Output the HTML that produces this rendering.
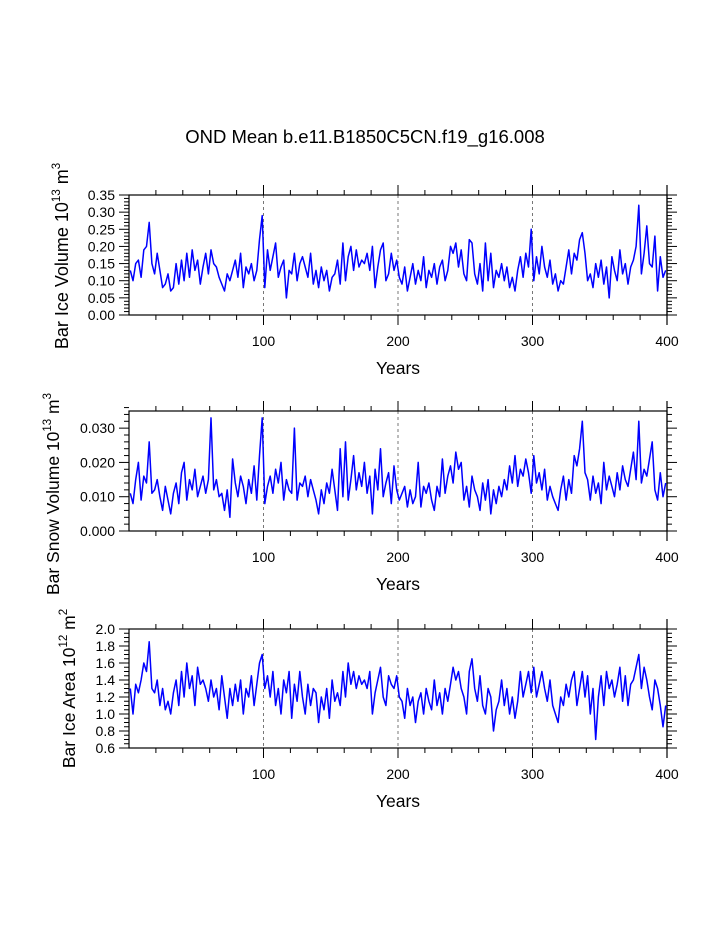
<!DOCTYPE html>
<html><head><meta charset="utf-8"><style>
body{margin:0;background:#fff;}
svg{display:block;font-family:"Liberation Sans",Arial,sans-serif;}
</style></head><body>
<svg id="chart" width="723" height="935" xmlns="http://www.w3.org/2000/svg">
<text x="365" y="143" font-size="18.5" text-anchor="middle">OND Mean b.e11.B1850C5CN.f19_g16.008</text>
</svg>
<script>
const years = [];
for (let y = 1; y <= 399; y += 2) years.push(y);
const xTicks = [100, 200, 300, 400];
const iceVolume = [
.13,.10,.15,.16,.11,.19,.20,.27,.15,.12,
.18,.13,.08,.09,.12,.07,.08,.15,.09,.16,
.10,.18,.11,.19,.13,.16,.09,.14,.18,.12,
.19,.15,.14,.11,.09,.07,.12,.10,.13,.16,
.11,.18,.08,.14,.12,.15,.10,.13,.22,.29,
.08,.19,.13,.17,.21,.11,.14,.16,.05,.13,
.12,.18,.10,.15,.17,.14,.11,.18,.09,.13,
.08,.14,.10,.13,.07,.11,.12,.16,.09,.21,
.10,.17,.20,.13,.19,.14,.16,.15,.18,.13,
.20,.08,.14,.19,.21,.10,.12,.18,.13,.16,
.11,.09,.14,.07,.11,.15,.09,.13,.10,.17,
.08,.13,.11,.15,.09,.14,.16,.10,.13,.20,
.18,.21,.14,.19,.12,.10,.22,.21,.12,.09,
.15,.07,.21,.10,.18,.08,.13,.11,.15,.10,
.14,.08,.11,.07,.13,.17,.11,.18,.14,.25,
.10,.17,.12,.20,.14,.11,.16,.09,.12,.07,
.10,.09,.14,.19,.12,.18,.16,.22,.24,.18,
.10,.12,.08,.15,.11,.16,.09,.14,.05,.17,
.13,.10,.19,.12,.15,.09,.14,.16,.20,.32,
.12,.18,.26,.15,.14,.23,.07,.17,.11,.13];
const snowVolume = [
.011,.008,.015,.020,.009,.016,.014,.026,.011,.012,
.015,.010,.006,.013,.009,.005,.011,.014,.008,.017,
.020,.009,.015,.012,.018,.010,.013,.016,.011,.015,
.033,.012,.015,.010,.011,.006,.012,.004,.021,.014,
.010,.016,.013,.008,.015,.011,.019,.009,.022,.033,
.008,.013,.016,.011,.018,.014,.020,.009,.015,.012,
.011,.030,.009,.014,.013,.016,.010,.015,.012,.009,
.005,.012,.008,.014,.011,.018,.012,.006,.024,.010,
.026,.009,.015,.022,.012,.017,.013,.020,.011,.016,
.005,.018,.012,.024,.010,.014,.017,.008,.019,.012,
.009,.011,.013,.007,.012,.008,.010,.020,.007,.013,
.011,.014,.009,.006,.013,.010,.021,.011,.016,.019,
.014,.023,.018,.020,.009,.013,.007,.016,.012,.010,
.006,.014,.009,.015,.005,.012,.008,.013,.010,.015,
.012,.019,.014,.022,.013,.018,.016,.021,.017,.011,
.022,.014,.017,.012,.018,.009,.013,.010,.008,.006,
.012,.016,.009,.015,.011,.022,.019,.024,.032,.017,
.015,.009,.016,.011,.014,.008,.020,.012,.016,.013,
.010,.017,.012,.019,.015,.013,.018,.023,.015,.032,
.014,.018,.016,.021,.026,.012,.009,.017,.010,.014];
const iceArea = [
1.3,1.0,1.35,1.25,1.4,1.6,1.5,1.85,1.3,1.25,
1.4,1.1,1.3,1.05,1.15,1.0,1.25,1.4,1.1,1.5,
1.2,1.6,1.3,1.45,1.1,1.55,1.35,1.4,1.3,1.15,
1.4,1.2,1.3,1.05,1.45,1.2,0.95,1.3,1.1,1.35,
1.15,1.4,1.0,1.3,1.2,1.45,1.1,1.35,1.6,1.7,
1.3,1.45,1.2,1.5,1.1,1.3,1.0,1.4,1.25,1.5,
0.95,1.35,1.15,1.5,1.2,1.0,1.35,1.1,1.3,1.25,
0.9,1.2,1.05,1.3,0.95,1.4,1.15,1.25,1.1,1.5,
1.2,1.6,1.35,1.5,1.3,1.45,1.35,1.4,1.3,1.5,
1.0,1.25,1.4,1.55,1.2,1.1,1.45,1.35,1.3,1.45,
1.2,1.15,0.95,1.3,1.1,1.2,0.9,1.15,1.25,1.0,
1.3,1.15,1.05,1.4,1.1,1.25,1.0,1.3,1.15,1.35,
1.55,1.4,1.5,1.3,1.2,1.0,1.5,1.65,1.3,1.15,
1.45,1.1,1.0,1.3,1.2,0.8,1.05,1.15,1.4,1.1,
1.3,1.0,1.2,0.95,1.15,1.5,1.2,1.35,1.5,1.25,
1.55,1.2,1.35,1.5,1.3,1.15,1.4,1.1,1.0,0.9,
1.2,1.1,1.35,1.2,1.4,1.5,1.1,1.3,1.5,1.2,
1.45,1.0,1.3,0.7,1.2,1.45,1.1,1.5,1.3,1.4,
1.2,1.35,1.55,1.15,1.45,1.1,1.35,1.4,1.55,1.7,
1.3,1.55,1.4,1.2,1.05,1.4,1.3,1.1,0.85,1.1];
const iceVolTicks = ["0.00","0.05","0.10","0.15","0.20","0.25","0.30","0.35"];
const snowTicks = ["0.000","0.010","0.020","0.030"];
const areaTicks = ["0.6","0.8","1.0","1.2","1.4","1.6","1.8","2.0"];

const NS = "http://www.w3.org/2000/svg";
const svg = document.getElementById('chart');
function mk(tag, attrs, parent) {
  const e = document.createElementNS(NS, tag);
  for (const k in attrs) e.setAttribute(k, attrs[k]);
  (parent || svg).appendChild(e);
  return e;
}
const X0 = 129, X1 = 667;
function xs(v) { return X0 + v / 400 * (X1 - X0); }

function panel(cfg) {
  const g = mk('g', {});
  
  
  const ys = v => cfg.bot - (v - cfg.min) / (cfg.max - cfg.min) * (cfg.bot - cfg.top);
  [100, 200, 300].forEach(t => {
    const l = mk('line', {x1: xs(t), x2: xs(t), y1: cfg.top, y2: cfg.bot, stroke: '#777', 'stroke-width': 1, 'stroke-dasharray': '3,3'}, g);
    
    
  });
  for (let t = 20; t < 400; t += 20) {
    const len = (t % 100 === 0) ? 10 : 5;
    mk('line', {x1: xs(t), x2: xs(t), y1: cfg.bot, y2: cfg.bot + len, stroke: '#000', 'stroke-width': 1}, g);
    mk('line', {x1: xs(t), x2: xs(t), y1: cfg.top, y2: cfg.top - len, stroke: '#000', 'stroke-width': 1}, g);
  }
  mk('line', {x1: X1, x2: X1, y1: cfg.bot + 10, y2: cfg.top - 10, stroke: '#000', 'stroke-width': 1.2}, g);
  const step = cfg.step;
  const mstep = step / cfg.minor;
  const nMinor = Math.round((cfg.max - cfg.min) / mstep);
  for (let i = 0; i <= nMinor; i++) {
    const v = cfg.min + i * mstep;
    const y = ys(v);
    const len = (i % cfg.minor === 0) ? 10 : 5;
    mk('line', {x1: X0, x2: X0 - len, y1: y, y2: y, stroke: '#000', 'stroke-width': 1}, g);
    mk('line', {x1: X1, x2: X1 + len, y1: y, y2: y, stroke: '#000', 'stroke-width': 1}, g);
  }
  cfg.ticks.forEach((lab, i) => {
    const t = mk('text', {x: 115, y: ys(cfg.min + i * step) + 5, 'font-size': 14, 'text-anchor': 'end'}, g);
    t.textContent = lab;
    
    
  });
  xTicks.forEach(v => {
    const t = mk('text', {x: xs(v), y: cfg.bot + 31, 'font-size': 14, 'text-anchor': 'middle'}, g);
    t.textContent = v;
    
    
  });
  const xt = mk('text', {x: 398, y: cfg.bot + 59, 'font-size': 17.5, 'text-anchor': 'middle'}, g);
  xt.textContent = 'Years';
  
  
  const cy = (cfg.top + cfg.bot) / 2 + cfg.yoff;
  const fs = cfg.fs;
  const yt = mk('text', {x: 0, y: 0, 'font-size': fs, 'text-anchor': 'middle', transform: `translate(${cfg.tx},${cy}) rotate(-90)`}, g);
  
  
  yt.appendChild(document.createTextNode(cfg.label + ' 10'));
  const s1 = mk('tspan', {'font-size': 11.5, dy: -8}, yt); s1.textContent = cfg.exp;
  const s2 = mk('tspan', {'font-size': fs, dy: 8}, yt); s2.textContent = ' m';
  const s3 = mk('tspan', {'font-size': 11.5, dy: -8}, yt); s3.textContent = cfg.unit;
  const b = mk('rect', {x: X0, y: cfg.top, width: X1 - X0, height: cfg.bot - cfg.top, fill: 'none', stroke: '#000', 'stroke-width': 1.2}, g);
  
  
  const pts = cfg.data.map((v, i) => xs(years[i]).toFixed(1) + ',' + ys(v).toFixed(1)).join(' ');
  const pl = mk('polyline', {points: pts, fill: 'none', stroke: '#0000ff', 'stroke-width': 1.5, 'stroke-linejoin': 'round'}, g);
  
  
}
panel({name: 'ice-volume-panel', top: 195, bot: 315, min: 0, max: 0.35, step: 0.05, ticks: iceVolTicks, minor: 5, data: iceVolume, label: 'Bar Ice Volume', exp: '13', unit: '3', tx: 68, yoff: 1, fs: 18});
panel({name: 'snow-volume-panel', top: 411, bot: 531, min: 0, max: 0.035, step: 0.010, ticks: snowTicks, minor: 5, data: snowVolume, label: 'Bar Snow Volume', exp: '13', unit: '3', tx: 59, yoff: 23, fs: 17.5});
panel({name: 'ice-area-panel', top: 629, bot: 748, min: 0.6, max: 2.0, step: 0.2, ticks: areaTicks, minor: 4, data: iceArea, label: 'Bar Ice Area', exp: '12', unit: '2', tx: 75, yoff: 0, fs: 17.5});
</script>
</body></html>
